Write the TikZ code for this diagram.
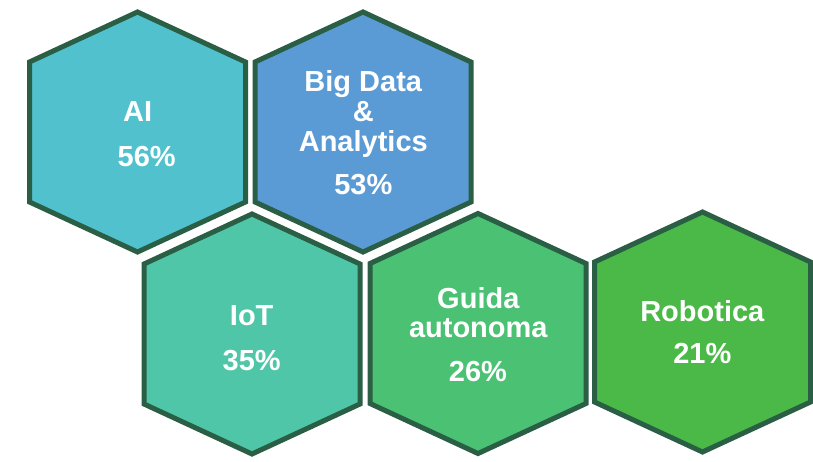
\documentclass[tikz,border=0pt]{standalone}
\usepackage{fontspec}
\setmainfont{Liberation Sans}
\definecolor{edgegreen}{HTML}{2A5E45}
\definecolor{fillai}{HTML}{52C1CE}
\definecolor{fillbd}{HTML}{5B9BD5}
\definecolor{filliot}{HTML}{4FC6A7}
\definecolor{fillga}{HTML}{4AC173}
\definecolor{fillrb}{HTML}{4AB947}
\tikzset{
  hexbox/.style={draw=edgegreen, line width=5pt, line join=miter},
  lbl/.style={text=white, font=\fontsize{29}{31}\selectfont\bfseries, anchor=base, inner sep=0pt, align=center}
}
\newcommand{\myhex}[4]{%
  \filldraw[hexbox, fill=#4] (#2,#3) ++(0,-122) coordinate (#1-top) -- ++(108,50) -- ++(0,140) -- ++(-108,50) coordinate (#1-bot) -- ++(-108,-50) -- ++(0,-140) -- cycle;
  \coordinate (#1) at (#2,#3);}
\begin{document}
\begin{tikzpicture}[x=1pt,y=-1pt]
\useasboundingbox (0,0) rectangle (813,462);
\myhex{ai}{137.5}{134}{fillai}
\myhex{bd}{363}{134}{fillbd}
\myhex{iot}{252}{336}{filliot}
\myhex{ga}{478}{335.5}{fillga}
\myhex{rb}{702.5}{334}{fillrb}
% labels
\node[lbl] (ai-t) at (137.7,121.7) {AI};
\node[lbl] (ai-p) at (146.7,166.7) {56\%};
\node[lbl] (bd-t1) at (363.3,91.7) {Big Data};
\node[lbl] (bd-t2) at (363.3,121.7) {\&};
\node[lbl] (bd-t3) at (363.3,151.7) {Analytics};
\node[lbl] (bd-p) at (363.3,195) {53\%};
\node[lbl] (iot-t) at (251.7,325) {IoT};
\node[lbl] (iot-p) at (251.7,370.7) {35\%};
\node[lbl] (ga-t1) at (478.3,308.3) {Guida};
\node[lbl] (ga-t2) at (478.3,337.7) {autonoma};
\node[lbl] (ga-p) at (478,381.7) {26\%};
\node[lbl] (rb-t) at (702.3,321.7) {Robotica};
\node[lbl] (rb-p) at (702.3,363.3) {21\%};
\end{tikzpicture}
\end{document}
